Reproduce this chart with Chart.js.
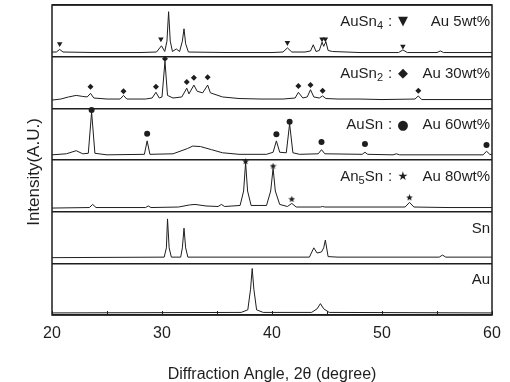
<!DOCTYPE html>
<html>
<head>
<meta charset="utf-8">
<script src="https://cdn.jsdelivr.net/npm/chart.js@4.4.0/dist/chart.umd.min.js"></script>
<style>
  html, body { margin: 0; padding: 0; background: #fff; }
</style>
</head>
<body>
<canvas id="chart" width="510" height="382"></canvas>
<script>
// XRD patterns, top strip to bottom strip. Intensity is read as a fraction of its own strip (0..1)
const au5Angle = [20, 20.4, 20.7, 21.0, 24, 28, 29.5, 29.95, 30.25, 30.45, 30.6, 30.75, 30.95, 31.3, 31.6, 31.85, 32.0, 32.15, 32.4, 36, 40, 41.0, 41.4, 41.8, 43.0, 43.5, 43.75, 44.0, 44.3, 44.55, 44.7, 44.9, 45.1, 45.5, 48, 51.5, 51.9, 52.3, 55.0, 55.3, 55.6, 60];
const au5Int   = [0.09, 0.09, 0.14, 0.09, 0.08, 0.08, 0.09, 0.21, 0.10, 0.30, 0.87, 0.30, 0.10, 0.15, 0.10, 0.30, 0.54, 0.25, 0.09, 0.08, 0.08, 0.09, 0.17, 0.09, 0.09, 0.11, 0.23, 0.10, 0.12, 0.28, 0.20, 0.29, 0.12, 0.10, 0.08, 0.08, 0.13, 0.08, 0.08, 0.11, 0.08, 0.08];

const au30Angle = [20, 20.8, 21.5, 22.2, 22.8, 23.2, 23.5, 23.8, 25, 26.2, 26.5, 26.8, 28.5, 29.1, 29.45, 29.75, 30.0, 30.27, 30.5, 31.0, 31.8, 32.25, 32.45, 32.9, 33.2, 33.7, 34.15, 34.4, 35.5, 37, 39, 41, 42.1, 42.4, 42.8, 43.2, 43.5, 43.8, 44.3, 44.6, 44.9, 46, 48, 50, 53.0, 53.3, 53.6, 57, 60];
const au30Int   = [0.16, 0.18, 0.22, 0.25, 0.23, 0.22, 0.29, 0.20, 0.18, 0.18, 0.25, 0.18, 0.18, 0.20, 0.31, 0.20, 0.22, 0.91, 0.25, 0.20, 0.22, 0.39, 0.28, 0.45, 0.33, 0.30, 0.45, 0.30, 0.22, 0.19, 0.18, 0.18, 0.20, 0.31, 0.20, 0.22, 0.36, 0.22, 0.20, 0.24, 0.19, 0.18, 0.18, 0.17, 0.18, 0.24, 0.17, 0.17, 0.17];

const au60Angle = [20, 21.3, 22.2, 22.8, 23.3, 23.6, 23.9, 25, 28.4, 28.65, 28.9, 31, 32.3, 32.8, 33.5, 34.5, 35.5, 37, 39.5, 40.1, 40.4, 40.7, 41.3, 41.6, 41.9, 42.5, 44.2, 44.5, 44.8, 48.2, 48.45, 48.7, 51.0, 51.3, 51.6, 59.2, 59.5, 59.8, 60];
const au60Int   = [0.10, 0.12, 0.18, 0.12, 0.13, 0.93, 0.13, 0.10, 0.11, 0.37, 0.11, 0.12, 0.22, 0.27, 0.26, 0.20, 0.14, 0.11, 0.11, 0.15, 0.37, 0.15, 0.14, 0.70, 0.14, 0.11, 0.12, 0.20, 0.12, 0.11, 0.15, 0.11, 0.10, 0.12, 0.10, 0.10, 0.17, 0.11, 0.10];

const au80Angle = [20, 23.4, 23.7, 24.0, 28.5, 28.75, 29.0, 31.5, 32.5, 33, 34, 35.1, 35.4, 35.7, 37.1, 37.42, 37.6, 37.78, 38.1, 39.5, 39.88, 40.1, 40.3, 40.7, 41.4, 41.8, 42.2, 44.4, 44.6, 44.8, 52.1, 52.5, 52.9, 56, 60];
const au80Int   = [0.07, 0.08, 0.14, 0.08, 0.08, 0.11, 0.08, 0.09, 0.13, 0.14, 0.11, 0.10, 0.14, 0.10, 0.12, 0.40, 0.95, 0.40, 0.12, 0.12, 0.40, 0.84, 0.40, 0.14, 0.10, 0.16, 0.09, 0.09, 0.10, 0.09, 0.09, 0.18, 0.09, 0.08, 0.08];

const snAngle = [20, 30.2, 30.4, 30.5, 30.65, 30.85, 31.7, 31.85, 32.0, 32.15, 32.35, 43.4, 43.8, 44.1, 44.5, 44.7, 44.85, 45.1, 46, 55.2, 55.5, 55.8, 60];
const snInt   = [0.11, 0.12, 0.30, 0.86, 0.30, 0.12, 0.12, 0.30, 0.68, 0.30, 0.12, 0.12, 0.30, 0.20, 0.22, 0.30, 0.45, 0.13, 0.12, 0.12, 0.16, 0.12, 0.12];

const auAngle = [20, 37.2, 37.8, 38.05, 38.2, 38.35, 38.6, 39.2, 43.6, 44.1, 44.4, 44.7, 45.2, 60];
const auInt   = [0.04, 0.05, 0.10, 0.50, 0.90, 0.50, 0.10, 0.05, 0.05, 0.12, 0.22, 0.12, 0.05, 0.04];

// phase markers above the peaks
const auSn4Angle = [20.7, 29.9, 41.4, 44.55, 44.85, 51.9];
const auSn4Int   = [0.25, 0.34, 0.27, 0.34, 0.34, 0.20];
const auSn2Angle = [23.5, 26.5, 29.45, 30.27, 32.25, 32.9, 34.15, 42.4, 43.5, 44.6, 53.3];
const auSn2Int   = [0.42, 0.33, 0.42, 0.96, 0.51, 0.59, 0.60, 0.43, 0.45, 0.34, 0.34];
const auSnAngle  = [23.6, 28.65, 40.4, 41.6, 44.5, 48.45, 59.5];
const auSnInt    = [0.97, 0.51, 0.50, 0.74, 0.35, 0.31, 0.29];
const au5SnAngle = [37.6, 40.1, 41.8, 52.5];
const au5SnInt   = [0.97, 0.88, 0.24, 0.27];

const sampleLabels = ['Au 5wt%', 'Au 30wt%', 'Au 60wt%', 'Au 80wt%', 'Sn', 'Au'];
const phaseNames   = ['AuSn_4', 'AuSn_2', 'AuSn', 'An_5Sn', '', ''];
const phaseSymbols = ['▼', '◆', '●', '★', '', ''];
const xTicks = [20, 30, 40, 50, 60];
const xMinorTicks = [25, 35, 45, 55];
const yTitle = 'Intensity(A.U.)';

const FONT = '"Liberation Sans", Arial, sans-serif';
const INK = '#1e1e1e';

var patterns = [
    [au5Angle, au5Int], [au30Angle, au30Int], [au60Angle, au60Int],
    [au80Angle, au80Int], [snAngle, snInt], [auAngle, auInt]
];
var markers = [
    [auSn4Angle, auSn4Int], [auSn2Angle, auSn2Int], [auSnAngle, auSnInt], [au5SnAngle, au5SnInt]
];

// put a strip's points at its own height (top strip = 5)
function toPoints(angles, ints, strip) {
    return angles.map((a, i) => ({ x: a, y: (5 - strip) + ints[i] }));
}

// small filled star, Chart.js has no filled star point style
function starImage(r) {
    var c = document.createElement('canvas');
    c.width = c.height = r * 2;
    var g = c.getContext('2d');
    g.fillStyle = INK;
    g.beginPath();
    for (var i = 0; i < 10; i++) {
        var ang = -Math.PI / 2 + i * Math.PI / 5;
        var rr = i % 2 ? r * 0.45 : r;
        g.lineTo(r + rr * Math.cos(ang), r + rr * Math.sin(ang));
    }
    g.closePath();
    g.fill();
    return c;
}

var markerStyles = [
    { pointStyle: 'triangle', pointRotation: 180, pointRadius: 3.2 },
    { pointStyle: 'rectRot', pointRotation: 0, pointRadius: 3 },
    { pointStyle: 'circle', pointRotation: 0, pointRadius: 3 },
    { pointStyle: starImage(3.5), pointRotation: 0, pointRadius: 3.5 }
];

var datasets = [];
patterns.forEach((p, i) => {
    datasets.push({
        data: toPoints(p[0], p[1], i),
        borderColor: INK,
        borderWidth: 1,
        pointRadius: 0,
        tension: 0,
        fill: false
    });
});
markers.forEach((m, i) => {
    datasets.push(Object.assign({
        data: toPoints(m[0], m[1], i),
        showLine: false,
        pointBackgroundColor: INK,
        pointBorderColor: INK,
        pointBorderWidth: 0
    }, markerStyles[i]));
});

// frame, inward ticks on the bottom axis, y title and the label of every strip
const decorPlugin = {
    id: 'decor',
    afterDraw(chart) {
        var ctx = chart.ctx;
        var area = chart.chartArea;
        var xs = chart.scales.x;
        var ys = chart.scales.y;
        ctx.save();
        ctx.strokeStyle = INK;
        ctx.lineWidth = 1.5;
        ctx.strokeRect(area.left, area.top, area.right - area.left, area.bottom - area.top);

        ctx.lineWidth = 1;
        ctx.beginPath();
        xTicks.concat(xMinorTicks).forEach(v => {
            var px = Math.round(xs.getPixelForValue(v)) + 0.5;
            ctx.moveTo(px, area.bottom);
            ctx.lineTo(px, area.bottom - 4);
        });
        ctx.stroke();

        ctx.fillStyle = INK;
        ctx.textBaseline = 'middle';

        // y title sits a little below the middle of the plot in the original
        ctx.save();
        ctx.translate(34, (area.top + area.bottom) / 2 + 12);
        ctx.rotate(-Math.PI / 2);
        ctx.textAlign = 'center';
        ctx.font = '17px ' + FONT;
        ctx.fillText(yTitle, 0, 0);
        ctx.restore();

        sampleLabels.forEach((txt, i) => {
            var cy = ys.getPixelForValue(6 - i) + 17;
            ctx.font = '15px ' + FONT;
            ctx.textAlign = 'right';
            ctx.fillText(txt, area.right - 2, cy);
            if (!phaseNames[i]) return;

            ctx.textAlign = 'center';
            ctx.font = (i == 3 ? '12px ' : '13px ') + '"DejaVu Sans", sans-serif';
            ctx.fillText(phaseSymbols[i], area.right - 89, cy);
            ctx.font = '15px ' + FONT;
            ctx.fillText(':', area.right - 102, cy);

            // phase name with its subscript
            var parts = phaseNames[i].split('_');
            var pieces = [{ t: parts[0], sub: false }];
            for (var j = 1; j < parts.length; j++) {
                pieces.push({ t: parts[j].charAt(0), sub: true });
                if (parts[j].length > 1) pieces.push({ t: parts[j].slice(1), sub: false });
            }
            var width = 0;
            pieces.forEach(pc => {
                ctx.font = (pc.sub ? '11px ' : '15px ') + FONT;
                pc.w = ctx.measureText(pc.t).width;
                width += pc.w;
            });
            var x = area.right - 109 - width;
            ctx.textAlign = 'left';
            pieces.forEach(pc => {
                ctx.font = (pc.sub ? '11px ' : '15px ') + FONT;
                ctx.fillText(pc.t, x, pc.sub ? cy + 4 : cy);
                x += pc.w;
            });
        });
        ctx.restore();
    }
};

var chart = new Chart(document.getElementById('chart').getContext('2d'), {
    type: 'line',
    data: { datasets: datasets },
    options: {
        responsive: false,
        animation: false,
        layout: { padding: { top: 5, right: 18, left: 0, bottom: 0 } },
        scales: {
            x: {
                type: 'linear',
                min: 20,
                max: 60,
                afterBuildTicks: s => { s.ticks = xTicks.map(v => ({ value: v })); },
                afterFit: s => { s.height = 67; },
                ticks: { padding: 9, color: INK, font: { family: FONT, size: 16 } },
                grid: { display: false, drawTicks: false },
                border: { display: false },
                title: {
                    display: true,
                    text: 'Diffraction Angle, 2θ (degree)',
                    color: INK,
                    font: { family: FONT, size: 16 },
                    padding: { top: 0, bottom: -2 }
                }
            },
            y: {
                min: 0,
                max: 6,
                afterFit: s => { s.width = 52; },
                ticks: { display: false, stepSize: 1 },
                grid: { color: INK, lineWidth: 1.5, drawTicks: false },
                border: { display: false },
                title: { display: false }
            }
        },
        plugins: {
            legend: { display: false },
            tooltip: { enabled: false }
        }
    },
    plugins: [decorPlugin]
});
</script>
</body>
</html>
